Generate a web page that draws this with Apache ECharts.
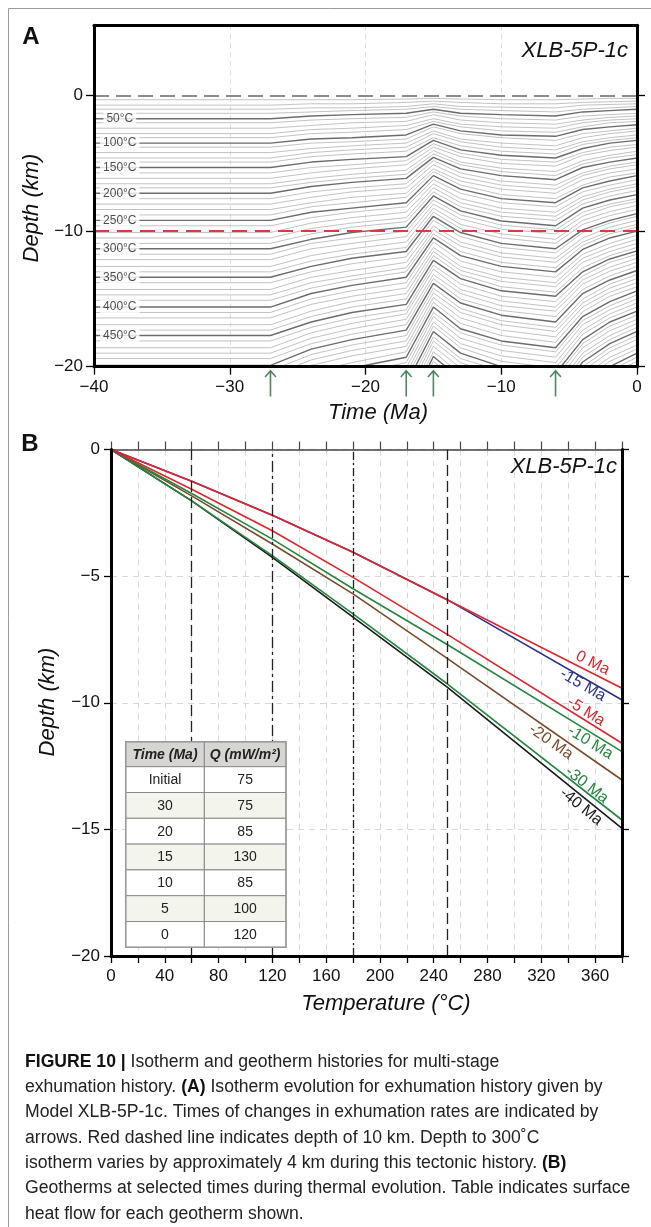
<!DOCTYPE html>
<html>
<head>
<meta charset="utf-8">
<title>Figure 10 – Isotherm and geotherm histories</title>
<script src="https://cdn.jsdelivr.net/npm/echarts@6.0.0/dist/echarts.min.js"></script>
<style>
html,body{margin:0;padding:0;background:#ffffff;}
#chart{width:651px;height:1227px;}
</style>
</head>
<body>
<div id="chart"></div>
<script>
// ================= DATA =================
// Panel A: isotherm depths (km, positive downwards) at selected model times (Ma)
const isoTimes = [-40, -27, -24, -21, -17, -15, -13, -10, -6, -4, -2, 0];
const isoTemps = [10,20,30,40,50,60,70,80,90,100,110,120,130,140,150,160,170,180,190,200,
  210,220,230,240,250,260,270,280,290,300,310,320,330,340,350,360,370,380,390,400,
  410,420,430,440,450,460,470,480,490,500,510,520,530,540,550,560,570,580,590,600,
  610,620,630,640,650,660,670,680,690,700,710,720,730];
const depthInitial = [0.3,0.7,1.0,1.3,1.7, 2.0,2.4,2.8,3.1,3.5, 3.8,4.2,4.6,4.9,5.3, 5.7,6.1,6.5,6.8,7.2,
  7.6,8.0,8.4,8.8,9.2, 9.6,10.1,10.5,10.9,11.3, 11.7,12.1,12.6,13.0,13.4, 13.8,14.3,14.7,15.1,15.6,
  16.0,16.4,16.9,17.3,17.7, 18.1,18.6,19.0,19.4,19.9, 20.3,20.7,21.1,21.6,22.0, 22.4,22.8,23.3,23.7,24.1,
  24.5,24.9,25.4,25.8,26.2, 26.6,27.0,27.5,27.9,28.3, 28.7,29.1,29.6];
const depthM24 = [0.3,0.6,0.9,1.2,1.5, 1.8,2.2,2.5,2.8,3.2, 3.5,3.9,4.2,4.5,4.9, 5.3,5.7,6.1,6.4,6.7,
  7.1,7.5,7.9,8.2,8.6, 9.0,9.4,9.8,10.2,10.6, 10.9,11.3,11.8,12.2,12.6, 13.0,13.4,13.8,14.2,14.6,
  15.0,15.4,15.9,16.3,16.7, 17.1,17.5,17.9,18.3,18.7, 19.1,19.5,19.9,20.4,20.8, 21.2,21.6,22.0,22.4,22.8,
  23.2,23.7,24.1,24.5,24.9, 25.3,25.7,26.2,26.6,27.0, 27.4,27.8,28.3];
const depthM21 = [0.3,0.6,0.9,1.1,1.4, 1.7,2.0,2.4,2.7,3.1, 3.4,3.7,4.0,4.3,4.7, 5.1,5.4,5.8,6.1,6.4,
  6.8,7.1,7.5,7.9,8.3, 8.6,9.0,9.4,9.7,10.1, 10.5,10.9,11.3,11.7,12.0, 12.4,12.9,13.3,13.6,14.0,
  14.4,14.8,15.2,15.6,16.0, 16.4,16.8,17.2,17.6,18.0, 18.4,18.8,19.2,19.7,20.1, 20.5,20.9,21.3,21.7,22.1,
  22.5,23.0,23.4,23.8,24.2, 24.6,25.0,25.4,25.8,26.2, 26.7,27.1,27.5];
const depthM17 = [0.25,0.5,0.8,1.0,1.3, 1.6,1.9,2.2,2.5,2.9, 3.2,3.5,3.8,4.1,4.5, 4.8,5.1,5.5,5.8,6.1,
  6.5,6.8,7.2,7.5,7.9, 8.2,8.6,9.0,9.3,9.7, 10.0,10.4,10.8,11.2,11.5, 11.9,12.3,12.7,13.0,13.4,
  13.8,14.2,14.6,15.0,15.4, 15.8,16.1,16.5,16.9,17.3, 17.7,18.1,18.5,18.9,19.3, 19.7,20.1,20.5,20.9,21.3,
  21.7,22.2,22.6,23.0,23.4, 23.8,24.2,24.6,25.0,25.4, 25.9,26.3,26.7];
const depthM15 = [0.2,0.4,0.6,0.8,1.0, 1.2,1.4,1.7,1.9,2.1, 2.3,2.6,2.8,3.1,3.3, 3.55,3.8,4.05,4.3,4.55,
  4.8,5.1,5.4,5.6,5.9, 6.2,6.5,6.8,7.1,7.4, 7.7,8.0,8.3,8.6,8.9, 9.2,9.6,9.9,10.2,10.5,
  10.8,11.2,11.5,11.8,12.15, 12.5,12.8,13.2,13.5,13.85, 14.2,14.55,14.9,15.25,15.6, 16.0,16.3,16.7,17.0,17.4,
  17.8,18.1,18.5,18.9,19.25, 19.6,20.0,20.4,20.7,21.1, 21.5,21.9,22.2];
const depthM13 = [0.25,0.5,0.8,1.0,1.3, 1.5,1.8,2.1,2.3,2.6, 2.8,3.2,3.4,3.7,4.0, 4.25,4.5,4.9,5.1,5.4,
  5.7,6.0,6.3,6.6,6.9, 7.2,7.6,7.9,8.2,8.5, 8.8,9.1,9.5,9.8,10.1, 10.4,10.8,11.1,11.5,11.8,
  12.2,12.6,12.9,13.2,13.5, 13.9,14.3,14.6,15.0,15.3, 15.7,16.0,16.4,16.8,17.2, 17.5,17.9,18.3,18.6,19.0,
  19.4,19.7,20.1,20.5,20.9, 21.3,21.7,22.0,22.4,22.8, 23.2,23.6,23.9];
const depthM10 = [0.3,0.6,0.85,1.1,1.4, 1.7,2.0,2.3,2.6,2.9, 3.1,3.5,3.8,4.1,4.4, 4.7,5.0,5.35,5.6,5.9,
  6.3,6.6,6.9,7.3,7.6, 7.9,8.3,8.6,8.9,9.25, 9.55,9.85,10.2,10.5,10.9, 11.2,11.6,11.9,12.3,12.6,
  13.0,13.4,13.7,14.1,14.4, 14.8,15.15,15.5,15.85,16.2, 16.6,16.9,17.3,17.7,18.1, 18.4,18.8,19.2,19.6,20.0,
  20.3,20.7,21.1,21.5,21.9, 22.3,22.7,23.0,23.4,23.8, 24.2,24.6,25.0];
const depthM6 = [0.3,0.6,0.9,1.2,1.5, 1.8,2.1,2.4,2.7,3.0, 3.3,3.7,4.0,4.3,4.6, 4.9,5.2,5.6,5.9,6.2,
  6.6,6.9,7.2,7.6,7.9, 8.2,8.6,8.9,9.2,9.6, 9.9,10.2,10.6,10.9,11.3, 11.6,12.0,12.3,12.7,13.0,
  13.4,13.8,14.1,14.5,14.8, 15.2,15.6,15.9,16.3,16.7, 17.1,17.4,17.8,18.2,18.6, 18.9,19.3,19.7,20.1,20.5,
  20.8,21.2,21.6,22.0,22.4, 22.8,23.2,23.5,23.9,24.3, 24.7,25.1,25.5];
const depthM4 = [0.25,0.5,0.7,1.0,1.2, 1.5,1.8,2.0,2.3,2.5, 2.8,3.1,3.4,3.6,3.9, 4.2,4.4,4.8,5.05,5.3,
  5.7,5.9,6.2,6.6,6.8, 7.1,7.45,7.7,8.0,8.3, 8.6,8.9,9.2,9.5,9.9, 10.1,10.5,10.8,11.05,11.35,
  11.7,12.0,12.3,12.7,13.0, 13.3,13.6,13.9,14.3,14.6, 15.0,15.3,15.6,15.95,16.3, 16.6,16.9,17.3,17.6,18.0,
  18.3,18.6,19.0,19.3,19.65, 20.0,20.3,20.7,21.0,21.4, 21.7,22.1,22.5];
const depthM2 = [0.2,0.45,0.65,0.9,1.1, 1.4,1.6,1.8,2.0,2.3, 2.6,2.8,3.1,3.3,3.5, 3.8,4.05,4.4,4.6,4.9,
  5.2,5.4,5.7,6.0,6.3, 6.6,6.9,7.1,7.4,7.7, 8.0,8.2,8.55,8.85,9.2, 9.4,9.7,10.0,10.2,10.5,
  10.9,11.2,11.5,11.8,12.05, 12.3,12.65,12.95,13.3,13.6, 13.9,14.2,14.5,14.8,15.2, 15.5,15.8,16.1,16.4,16.7,
  17.0,17.35,17.7,18.0,18.3, 18.6,18.9,19.3,19.6,20.0, 20.3,20.6,21.0];
const depthNow = [0.2,0.4,0.6,0.8,1.0, 1.3,1.5,1.7,1.9,2.15, 2.4,2.6,2.9,3.1,3.3, 3.6,3.8,4.1,4.35,4.6,
  4.9,5.1,5.4,5.7,5.9, 6.2,6.5,6.7,7.0,7.3, 7.6,7.8,8.1,8.4,8.7, 8.9,9.2,9.5,9.7,10.0,
  10.3,10.6,10.9,11.2,11.45, 11.7,12.0,12.3,12.6,12.9, 13.2,13.5,13.8,14.1,14.4, 14.7,15.0,15.3,15.6,15.9,
  16.2,16.5,16.8,17.1,17.4, 17.7,18.0,18.4,18.7,19.0, 19.3,19.6,20.0];
const isoSnapshots = [depthInitial, depthInitial, depthM24, depthM21, depthM17, depthM15,
  depthM13, depthM10, depthM6, depthM4, depthM2, depthNow];
const labelledIsotherms = [50, 100, 150, 200, 250, 300, 350, 400, 450];
const arrowTimes = [-27, -17, -15, -6];
const surfaceDepth = 0;
const markerDepth = -10;

// Panel B: geotherms (depth in km at temperature in °C)
const geoTemps = [0, 60, 120, 180, 250, 380];
const geoM40 = [0, 2.03, 4.26, 6.62, 9.38, 14.96];
const geoM30 = [0, 2.03, 4.19, 6.49, 9.25, 14.63];
const geoM20 = [0, 1.83, 3.73, 5.70, 8.25, 13.05];
const geoM10 = [0, 1.74, 3.54, 5.50, 7.70, 11.93];
const geoM5  = [0, 1.57, 3.21, 5.05, 7.30, 11.60];
const geoM15 = [0, 1.25, 2.60, 4.06, 5.93, 9.89];
const geo0   = [0, 1.25, 2.60, 4.06, 5.93, 9.43];
const closureTemps = [60, 120, 180, 250];

// Inset table
const tableHeader = ['Time (Ma)', 'Q (mW/m²)'];
const tableTimes = ['Initial', '30', '20', '15', '10', '5', '0'];
const tableQ = [75, 75, 85, 130, 85, 100, 120];

// Tick labels
const xTicksA = [-40, -30, -20, -10, 0];
const yTicksA = [-20, -10, 0];
const xTicksB = [0, 40, 80, 120, 160, 200, 240, 280, 320, 360];
const yTicksB = [-20, -15, -10, -5, 0];

const captionLines = [
  '{b|FIGURE 10 |} Isotherm and geotherm histories for multi-stage',
  'exhumation history. {b|(A)} Isotherm evolution for exhumation history given by',
  'Model XLB-5P-1c. Times of changes in exhumation rates are indicated by',
  'arrows. Red dashed line indicates depth of 10 km. Depth to 300˚C',
  'isotherm varies by approximately 4 km during this tectonic history. {b|(B)}',
  'Geotherms at selected times during thermal evolution. Table indicates surface',
  'heat flow for each geotherm shown.'
];

// ================= STYLE / LAYOUT =================
const FONT = '"Liberation Sans", Arial, Helvetica, sans-serif';
const fmtMinus = v => (v < 0 ? '\u2212' + Math.abs(v) : String(v));
const frameLine = {show: true, onZero: false, lineStyle: {color: '#000', width: 3}};
const tickStyle = {color: '#000', width: 1.3};
const tickLabel = {fontSize: 17, color: '#111', fontFamily: FONT};

const geotherms = [
  {name: '-40 Ma', color: '#1a1a1a', depths: geoM40, along: -45.4, perp: 8.8},
  {name: '-30 Ma', color: '#23883f', depths: geoM30, along: -49.2, perp: -6.0},
  {name: '-20 Ma', color: '#7a4b2a', depths: geoM20, along: -80.1, perp: 9.3},
  {name: '-10 Ma', color: '#23883f', depths: geoM10, along: -31.8, perp: 8.8},
  {name: '-5 Ma',  color: '#e3242b', depths: geoM5,  along: -47.2, perp: -7.8},
  {name: '-15 Ma', color: '#2e3192', depths: geoM15, along: -41.4, perp: 6.7},
  {name: '0 Ma',   color: '#e3242b', depths: geo0,   along: -37.5, perp: -9.2}
];
const closureDash = [[11, 5], [11, 4, 3, 4], [8, 3, 2, 3], [11, 5]];

const chart = echarts.init(document.getElementById('chart'), null, {renderer: 'canvas', width: 651, height: 1227});

const series = [];
// isotherms
isoTemps.forEach((T, i) => {
  const bold = T % 50 === 0;
  series.push({
    type: 'line', xAxisIndex: 0, yAxisIndex: 0, symbol: 'none', silent: true,
    z: bold ? 3 : 2,
    lineStyle: {color: bold ? '#6c6c6c' : '#b2b2b2', width: bold ? 1.4 : 0.8},
    data: isoTimes.map((t, k) => [t, -isoSnapshots[k][i]])
  });
});
// reference dashed lines (surface & 10 km)
series.push({
  type: 'line', xAxisIndex: 0, yAxisIndex: 0, data: [], z: 4, silent: true,
  markLine: {
    silent: true, symbol: ['none', 'none'], label: {show: false}, animation: false,
    data: [
      {yAxis: surfaceDepth, lineStyle: {color: '#8c8c8c', width: 1.8, type: [15, 7]}},
      {yAxis: markerDepth, lineStyle: {color: '#e0393b', width: 1.8, type: [15, 8]}}
    ]
  }
});
// isotherm labels
series.push({
  type: 'scatter', xAxisIndex: 0, yAxisIndex: 0, z: 6, silent: true,
  symbolSize: 0.1, itemStyle: {color: 'rgba(0,0,0,0)'},
  data: labelledIsotherms.map(T => ({name: T + '°C', value: [-38.1, -depthInitial[isoTemps.indexOf(T)]]})),
  label: {show: true, position: 'inside', formatter: p => p.name, fontSize: 12, color: '#222',
          fontFamily: FONT, backgroundColor: '#ffffff', padding: [1, 3, 1, 3]}
});
// arrows (changes in exhumation rate)
series.push({
  type: 'scatter', xAxisIndex: 4, yAxisIndex: 5, z: 6, silent: true,
  symbol: 'path://M6,0 L12,7 L10.9,8 L6.8,3.6 L6.8,27 L5.2,27 L5.2,3.6 L1.1,8 L0,7 Z',
  symbolSize: [12, 27], itemStyle: {color: '#1d6b37'},
  data: arrowTimes.map(t => [t, 0.5])
});
// closure temperature dashed lines (panel B)
series.push({
  type: 'line', xAxisIndex: 2, yAxisIndex: 2, data: [], z: 3, silent: true,
  markLine: {
    silent: true, symbol: ['none', 'none'], label: {show: false}, animation: false,
    data: closureTemps.map((T, i) => ({xAxis: T, lineStyle: {color: '#222', width: 1.3, type: closureDash[i]}}))
  }
});
// geotherms
geotherms.forEach(g => {
  series.push({
    type: 'line', name: g.name, xAxisIndex: 2, yAxisIndex: 2, symbol: 'none', z: 4, silent: true,
    lineStyle: {color: g.color, width: 1.6},
    data: geoTemps.map((T, k) => [T, -g.depths[k]])
  });
});

const option = {
  animation: false,
  backgroundColor: '#ffffff',
  textStyle: {fontFamily: FONT},
  grid: [
    {left: 94, top: 25.2, width: 543, height: 341.5, containLabel: false, outerBoundsMode: 'none', show: false},
    {left: 111, top: 449.5, width: 511, height: 506.5, containLabel: false, outerBoundsMode: 'none', show: false},
    {left: 94, top: 369.5, width: 543, height: 27, containLabel: false, outerBoundsMode: 'none', show: false}
  ],
  xAxis: [
    {gridIndex: 0, type: 'value', min: -40, max: 0, interval: 10, position: 'bottom', z: 10,
     axisLine: frameLine, axisTick: {show: true, inside: false, length: 8, lineStyle: tickStyle},
     axisLabel: Object.assign({show: true, margin: 12, formatter: fmtMinus, customValues: xTicksA}, tickLabel),
     splitLine: {show: false}},
    {gridIndex: 0, type: 'value', min: -40, max: 0, interval: 10, position: 'top', z: 0,
     axisLine: frameLine, axisTick: {show: false}, axisLabel: {show: false},
     splitLine: {show: true, lineStyle: {color: '#d6d6d6', width: 0.8, type: [5, 4]}}},
    {gridIndex: 1, type: 'value', min: 0, max: 380, interval: 20, position: 'bottom', z: 10,
     axisLine: frameLine, axisTick: {show: true, inside: false, length: 7, lineStyle: tickStyle},
     axisLabel: Object.assign({show: true, margin: 12, formatter: fmtMinus, customValues: xTicksB}, tickLabel),
     splitLine: {show: false}},
    {gridIndex: 1, type: 'value', min: 0, max: 380, interval: 20, position: 'top', z: 0,
     axisLine: {show: true, onZero: false, lineStyle: {color: '#444', width: 1.5}},
     axisTick: {show: true, inside: false, length: 8, lineStyle: {color: '#444', width: 1.2}},
     axisLabel: {show: false},
     splitLine: {show: true, lineStyle: {color: '#d8d8d8', width: 1, type: [6, 5]}}},
    {gridIndex: 2, type: 'value', min: -40, max: 0, show: false}
  ],
  yAxis: [
    {gridIndex: 0, type: 'value', min: -20, max: 5.2, position: 'left', z: 10,
     axisLine: frameLine,
     axisTick: {show: true, inside: false, length: 8, customValues: yTicksA, lineStyle: tickStyle},
     axisLabel: Object.assign({show: true, margin: 11, formatter: fmtMinus, customValues: yTicksA}, tickLabel),
     splitLine: {show: false}},
    {gridIndex: 0, type: 'value', min: -20, max: 5.2, position: 'right', z: 10,
     axisLine: frameLine,
     axisTick: {show: true, inside: false, length: 8, customValues: yTicksA, lineStyle: tickStyle},
     axisLabel: {show: false}, splitLine: {show: false}},
    {gridIndex: 1, type: 'value', min: -20, max: 0, interval: 5, position: 'left', z: 10,
     axisLine: frameLine, axisTick: {show: true, inside: false, length: 7, lineStyle: tickStyle},
     axisLabel: Object.assign({show: true, margin: 11, formatter: fmtMinus, customValues: yTicksB}, tickLabel),
     splitLine: {show: false}},
    {gridIndex: 1, type: 'value', min: -20, max: 0, interval: 5, position: 'right', z: 10,
     axisLine: frameLine, axisTick: {show: true, inside: false, length: 7, lineStyle: tickStyle},
     axisLabel: {show: false}, splitLine: {show: false}},
    {gridIndex: 1, type: 'value', min: -20, max: 0, interval: 5, position: 'left', z: 0,
     axisLine: {show: false}, axisTick: {show: false}, axisLabel: {show: false},
     splitLine: {show: true, lineStyle: {color: '#d8d8d8', width: 1, type: [6, 5]}}},
    {gridIndex: 2, type: 'value', min: 0, max: 1, show: false}
  ],
  series: series
};
chart.setOption(option);

// ================= ANNOTATIONS (graphic) =================
function txt(str, x, y, st, rotation, z) {
  const style = Object.assign({
    text: str, fill: '#111', fontFamily: FONT, fontSize: 16,
    align: 'left', verticalAlign: 'middle', textAlign: 'left', textVerticalAlign: 'middle'
  }, st || {});
  if (style.align) style.textAlign = style.align;
  if (style.verticalAlign) style.textVerticalAlign = style.verticalAlign;
  return {type: 'text', x: x, y: y, rotation: rotation || 0, z: z || 60, silent: true, style: style};
}
const els = [];
// page frame
els.push({type: 'line', z: 60, silent: true, shape: {x1: 8.5, y1: 8.5, x2: 651, y2: 8.5}, style: {stroke: '#9b9b9b', lineWidth: 1}});
els.push({type: 'line', z: 60, silent: true, shape: {x1: 8.5, y1: 8.5, x2: 8.5, y2: 1227}, style: {stroke: '#9b9b9b', lineWidth: 1}});
// panel letters
els.push(txt('A', 31, 37, {fontSize: 24, fontWeight: 'bold', align: 'center'}));
els.push(txt('B', 30, 444, {fontSize: 24, fontWeight: 'bold', align: 'center'}));
// sample names
els.push(txt('XLB-5P-1c', 628, 51, {fontSize: 22, fontStyle: 'italic', align: 'right'}));
els.push(txt('XLB-5P-1c', 617, 467, {fontSize: 22, fontStyle: 'italic', align: 'right'}));
// axis titles
els.push(txt('Time (Ma)', 378, 413, {fontSize: 22, fontStyle: 'italic', align: 'center'}));
els.push(txt('Depth (km)', 32, 208, {fontSize: 22, fontStyle: 'italic', align: 'center'}, Math.PI / 2));
els.push(txt('Temperature (°C)', 386, 1004, {fontSize: 22, fontStyle: 'italic', align: 'center'}));
els.push(txt('Depth (km)', 48, 702, {fontSize: 22, fontStyle: 'italic', align: 'center'}, Math.PI / 2));

// inset table
const tX0 = 125.7, tX1 = 204.3, tX2 = 286, tY0 = 741.7, tHead = 25, tRow = 25.8;
els.push({type: 'rect', z: 70, silent: true, shape: {x: tX0, y: tY0, width: tX2 - tX0, height: tHead}, style: {fill: '#d7d5d1', stroke: '#8a8a8a', lineWidth: 1}});
tableTimes.forEach((tm, r) => {
  const y = tY0 + tHead + r * tRow;
  els.push({type: 'rect', z: 70, silent: true, shape: {x: tX0, y: y, width: tX2 - tX0, height: tRow},
            style: {fill: r % 2 === 1 ? '#f3f4ec' : '#ffffff', stroke: '#8a8a8a', lineWidth: 1}});
  els.push(txt(tm, (tX0 + tX1) / 2, y + tRow / 2 + 0.5, {fontSize: 14, align: 'center', fill: '#222'}, 0, 80));
  els.push(txt(String(tableQ[r]), (tX1 + tX2) / 2, y + tRow / 2 + 0.5, {fontSize: 14, align: 'center', fill: '#222'}, 0, 80));
});
const tY1 = tY0 + tHead + tableTimes.length * tRow;
els.push({type: 'line', z: 71, silent: true, shape: {x1: tX1, y1: tY0, x2: tX1, y2: tY1}, style: {stroke: '#8a8a8a', lineWidth: 1.2}});
els.push({type: 'rect', z: 71, silent: true, shape: {x: tX0, y: tY0, width: tX2 - tX0, height: tY1 - tY0}, style: {fill: 'none', stroke: '#9a9a9a', lineWidth: 1.5}});
els.push(txt(tableHeader[0], (tX0 + tX1) / 2, tY0 + tHead / 2 + 0.5, {fontSize: 14, fontWeight: 'bold', fontStyle: 'italic', align: 'center', fill: '#222'}, 0, 80));
els.push(txt(tableHeader[1], (tX1 + tX2) / 2, tY0 + tHead / 2 + 0.5, {fontSize: 14, fontWeight: 'bold', fontStyle: 'italic', align: 'center', fill: '#222'}, 0, 80));

// geotherm labels, placed along the last segment of each line
geotherms.forEach(g => {
  const n = geoTemps.length;
  const pA = chart.convertToPixel({xAxisIndex: 2, yAxisIndex: 2}, [geoTemps[n - 2], -g.depths[n - 2]]);
  const pB = chart.convertToPixel({xAxisIndex: 2, yAxisIndex: 2}, [geoTemps[n - 1], -g.depths[n - 1]]);
  const th = Math.atan2(pB[1] - pA[1], pB[0] - pA[0]);
  const ux = Math.cos(th), uy = Math.sin(th);
  const cx = pB[0] + g.along * ux - g.perp * uy;
  const cy = pB[1] + g.along * uy + g.perp * ux;
  els.push(txt(g.name, cx, cy, {fontSize: 16, align: 'center', fill: g.color}, -th));
});

// caption
captionLines.forEach((line, i) => {
  els.push({type: 'text', x: 25, y: 1062 + i * 25.3, z: 60, silent: true, style: {
    text: line, fill: '#222', fontFamily: FONT, fontSize: 17.6,
    align: 'left', verticalAlign: 'middle', textAlign: 'left', textVerticalAlign: 'middle',
    rich: {b: {fontWeight: 'bold', fontSize: 17.6, fontFamily: FONT, fill: '#111', color: '#111'}}
  }});
});

chart.setOption({graphic: {elements: els}});
</script>
</body>
</html>
